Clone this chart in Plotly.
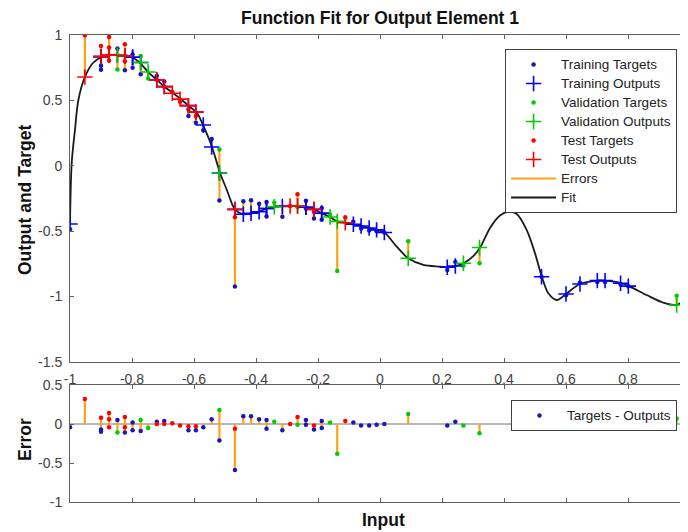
import plotly.graph_objects as go

# ---------------- data ----------------
fit_x = [-1.0, -0.9945, -0.984, -0.973, -0.952, -0.926, -0.898, -0.871, -0.829, -0.801,
         -0.774, -0.748, -0.719, -0.694, -0.668, -0.639, -0.613, -0.590, -0.571, -0.542,
         -0.516, -0.494, -0.478, -0.468, -0.441, -0.414, -0.390, -0.364, -0.339, -0.290,
         -0.239, -0.213, -0.188, -0.161, -0.138, -0.113, -0.086, -0.061, -0.035, -0.011,
         0.014, 0.054, 0.091, 0.140, 0.194, 0.220, 0.245, 0.269, 0.301, 0.323,
         0.355, 0.387, 0.414, 0.441, 0.473, 0.500, 0.522, 0.543, 0.570, 0.600,
         0.645, 0.699, 0.726, 0.780, 0.806, 0.860, 0.914, 0.957, 0.994]
fit_y = [-0.445, 0.021, 0.274, 0.503, 0.679, 0.786, 0.832, 0.847, 0.847, 0.832,
         0.786, 0.717, 0.656, 0.602, 0.557, 0.503, 0.450, 0.404, 0.312, 0.144,
         -0.055, -0.185, -0.287, -0.333, -0.371, -0.363, -0.351, -0.325, -0.313, -0.307,
         -0.317, -0.333, -0.363, -0.392, -0.425, -0.435, -0.447, -0.460, -0.475, -0.490,
         -0.510, -0.618, -0.707, -0.758, -0.771, -0.776, -0.766, -0.745, -0.690, -0.625,
         -0.475, -0.380, -0.353, -0.368, -0.490, -0.669, -0.848, -0.975, -1.026, -0.980,
         -0.904, -0.878, -0.878, -0.898, -0.924, -0.988, -1.047, -1.064, -1.000]

train_x = [-1.0, -0.90, -0.90, -0.847, -0.823, -0.798, -0.798, -0.772, -0.720, -0.696,
           -0.618, -0.594, -0.570, -0.543, -0.518, -0.468, -0.441, -0.416, -0.390, -0.366,
           -0.366, -0.315, -0.239, -0.239, -0.213, -0.188, -0.188, -0.086, -0.061, -0.035,
           -0.011, 0.014, 0.217, 0.243, 0.521, 0.600, 0.645, 0.701, 0.726, 0.776,
           0.801, 0.994]
train_out = [-0.445, 0.835, 0.835, 0.847, 0.840, 0.830, 0.830, 0.790, 0.656, 0.605,
             0.460, 0.410, 0.312, 0.144, -0.055, -0.333, -0.371, -0.363, -0.351, -0.327,
             -0.327, -0.310, -0.317, -0.317, -0.333, -0.363, -0.363, -0.447, -0.460, -0.475,
             -0.490, -0.510, -0.776, -0.766, -0.848, -0.980, -0.904, -0.878, -0.878, -0.898,
             -0.920, -1.000]
train_tgt = [-0.485, 0.765, 0.735, 0.897, 0.730, 0.850, 0.750, 0.700, 0.686, 0.645,
             0.380, 0.330, 0.272, 0.204, -0.265, -0.923, -0.271, -0.263, -0.291, -0.277,
             -0.387, -0.390, -0.267, -0.327, -0.403, -0.323, -0.413, -0.427, -0.480, -0.495,
             -0.500, -0.510, -0.796, -0.736, -0.848, -0.990, -0.894, -0.888, -0.888, -0.908,
             -0.920, -1.000]

val_x = [-0.847, -0.772, -0.748, -0.518, -0.341, -0.266, -0.161, -0.138, 0.091, 0.269,
         0.321, 0.957]
val_out = [0.847, 0.790, 0.717, -0.055, -0.313, -0.307, -0.392, -0.425, -0.707, -0.745,
           -0.625, -1.064]
val_tgt = [0.737, 0.840, 0.667, 0.125, -0.283, -0.317, -0.372, -0.805, -0.577, -0.765,
           -0.745, -0.994]

test_x = [-0.952, -0.90, -0.874, -0.874, -0.874, -0.823, -0.823, -0.720, -0.696, -0.670,
          -0.645, -0.618, -0.594, -0.468, -0.290, -0.266, -0.213, -0.112]
test_out = [0.679, 0.835, 0.845, 0.845, 0.845, 0.840, 0.840, 0.656, 0.605, 0.555,
            0.510, 0.460, 0.410, -0.333, -0.307, -0.307, -0.333, -0.435]
test_tgt = [0.999, 0.915, 0.985, 0.905, 0.805, 0.930, 0.800, 0.656, 0.605, 0.565,
            0.490, 0.430, 0.380, -0.393, -0.307, -0.217, -0.353, -0.395]

x_tick_vals = [-1, -0.8, -0.6, -0.4, -0.2, 0, 0.2, 0.4, 0.6, 0.8]
x_tick_text = ["-1", "-0.8", "-0.6", "-0.4", "-0.2", "0", "0.2", "0.4", "0.6", "0.8"]
y_tick_vals = [1, 0.5, 0, -0.5, -1, -1.5]
y_tick_text = ["1", "0.5", "0", "-0.5", "-1", "-1.5"]
e_tick_vals = [0.5, 0, -0.5, -1]
e_tick_text = ["0.5", "0", "-0.5", "-1"]

# ---------------- styling ----------------
BLUE = "#0000ff"
DBLUE = "#1818b8"
GREEN = "#00cc00"
RED = "#ff0000"
ORANGE = "#ffa21a"
AXC = "#606060"
TXT = "#404040"
FONT = "Liberation Sans, Arial, sans-serif"


def lg(name):
    return '<span style="font-size:13.5px">' + name + '</span>'


def stems(xs, y0s, y1s):
    sx, sy = [], []
    for x, a, b in zip(xs, y0s, y1s):
        sx += [x, x, None]
        sy += [a, b, None]
    return sx, sy


all_x = train_x + val_x + test_x
all_out = train_out + val_out + test_out
all_tgt = train_tgt + val_tgt + test_tgt
all_err = [t - o for t, o in zip(all_tgt, all_out)]

fig = go.Figure()

# main panel: error lines
sx, sy = stems(all_x, all_out, all_tgt)
fig.add_trace(go.Scatter(x=sx, y=sy, mode="lines", line=dict(color=ORANGE, width=2.2),
                         name=lg("Errors"), legendrank=7, xaxis="x", yaxis="y"))
# fit
fig.add_trace(go.Scatter(x=fit_x, y=fit_y, mode="lines",
                         line=dict(color="#1a1a1a", width=1.8, shape="spline", smoothing=0.9),
                         name=lg("Fit"), legendrank=8, xaxis="x", yaxis="y"))

subsets = [("Training", train_x, train_out, train_tgt, DBLUE, BLUE, 1),
           ("Validation", val_x, val_out, val_tgt, GREEN, GREEN, 3),
           ("Test", test_x, test_out, test_tgt, RED, RED, 5)]
for name, xs, outs, tgts, dc, pc, rk in subsets:
    fig.add_trace(go.Scatter(x=xs, y=tgts, mode="markers",
                             marker=dict(symbol="circle", size=4.5, color=dc),
                             name=lg(name + " Targets"), legendrank=rk, xaxis="x", yaxis="y"))
for name, xs, outs, tgts, dc, pc, rk in subsets:
    fig.add_trace(go.Scatter(x=xs, y=outs, mode="markers",
                             marker=dict(symbol="cross-thin", size=11,
                                         line=dict(color=pc, width=1.6)),
                             name=lg(name + " Outputs"), legendrank=rk + 1,
                             xaxis="x", yaxis="y"))

# error panel
ex, ey = stems(all_x, [0] * len(all_x), all_err)
fig.add_trace(go.Scatter(x=ex, y=ey, mode="lines", line=dict(color=ORANGE, width=2.2),
                         showlegend=False, xaxis="x2", yaxis="y2"))
first = True
for name, xs, outs, tgts, dc, pc, rk in subsets:
    errs = [t - o for t, o in zip(tgts, outs)]
    fig.add_trace(go.Scatter(x=xs, y=errs, mode="markers",
                             marker=dict(symbol="circle", size=4.5, color=dc),
                             name=lg("Targets - Outputs"), showlegend=first, legend="legend2",
                             xaxis="x2", yaxis="y2"))
    first = False

fig.add_shape(type="line", xref="x2 domain", yref="y2", x0=0, x1=1, y0=0, y1=0,
              line=dict(color="#a0a0a0", width=1.5), layer="below")

axis_common = dict(ticks="inside", ticklen=4, tickcolor=AXC, showline=True, linecolor=AXC,
                   linewidth=1, showgrid=False, zeroline=False, ticklabelstandoff=4,
                   tickfont=dict(family=FONT, size=14, color=TXT))

fig.update_layout(
    width=680, height=524,
    margin=dict(l=62, r=0, t=27, b=30),
    plot_bgcolor="white", paper_bgcolor="white",
    font=dict(family=FONT, size=12, color=TXT),
    xaxis=dict(domain=[0, 1], anchor="y", range=[-1, 0.9935], tickvals=x_tick_vals,
               ticktext=x_tick_text, mirror="ticks", **axis_common),
    xaxis2=dict(domain=[0, 1], anchor="y2", matches="x", tickvals=x_tick_vals,
                showticklabels=False, mirror="ticks", **axis_common),
    yaxis=dict(domain=[0.2998, 1], anchor="x", range=[-1.5, 1], tickvals=y_tick_vals,
               ticktext=y_tick_text, **axis_common),
    yaxis2=dict(domain=[0, 0.2505], anchor="x2", range=[-1, 0.5], tickvals=e_tick_vals,
                ticktext=e_tick_text, **axis_common),
    legend=dict(x=0.704, y=0.970, xanchor="left", yanchor="top", bgcolor="white",
                bordercolor="#404040", borderwidth=1, itemwidth=45,
                font=dict(family=FONT, size=12, color="#222"), tracegroupgap=0),
    legend2=dict(x=0.7136, y=0.2184, xanchor="left", yanchor="top", bgcolor="white",
                 bordercolor="#404040", borderwidth=1, itemwidth=45,
                 font=dict(family=FONT, size=12, color="#222")),
    showlegend=True,
    annotations=[
        dict(text="<b>Function Fit for Output Element 1</b>", xref="paper", yref="paper",
             x=0.5016, y=1.036, xanchor="center", yanchor="middle", showarrow=False,
             font=dict(family=FONT, size=17.5, color="#111")),
        dict(text="<b>Output and Target</b>", xref="paper", yref="paper", textangle=-90,
             x=-0.0728, y=0.6467, xanchor="center", yanchor="middle", showarrow=False,
             font=dict(family=FONT, size=17.5, color="#111")),
        dict(text="<b>Error</b>", xref="paper", yref="paper", textangle=-90,
             x=-0.0728, y=0.1328, xanchor="center", yanchor="middle", showarrow=False,
             font=dict(family=FONT, size=17.5, color="#111")),
        dict(text="<b>Input</b>", xref="paper", yref="paper",
             x=0.5065, y=-0.0385, xanchor="center", yanchor="middle", showarrow=False,
             font=dict(family=FONT, size=17.5, color="#111")),
    ],
)

fig.write_html("out.html")
